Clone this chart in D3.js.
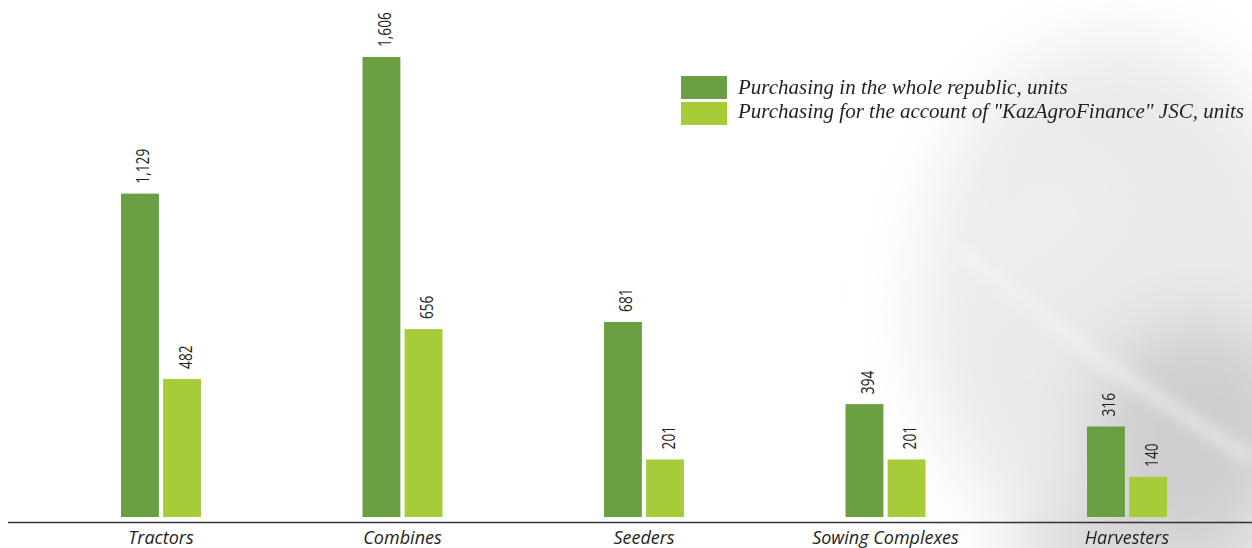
<!DOCTYPE html>
<html><head><meta charset="utf-8">
<script src="https://cdn.jsdelivr.net/npm/d3@7"></script>
<style>html,body{margin:0;padding:0;background:#fff;overflow:hidden}</style>
</head><body>
<svg id="c" width="1252" height="548"></svg>
<script>
const categories = ["Tractors","Combines","Seeders","Sowing Complexes","Harvesters"];
const seriesNames = ["Purchasing in the whole republic, units","Purchasing for the account of \"KazAgroFinance\" JSC, units"];
const republic = [1129,1606,681,394,316];
const kazAgro = [482,656,201,201,140];
const labelsRepublic = ["1,129","1,606","681","394","316"];
const labelsKazAgro = ["482","656","201","201","140"];
const colors = ["#6aa043","#a6cd39"];

const svg = d3.select("#c");
// decorative background
const defs = svg.append("defs");
const f = defs.append("filter").attr("id","blur").attr("x","-50%").attr("y","-50%").attr("width","200%").attr("height","200%");
f.append("feGaussianBlur").attr("stdDeviation",35);
const f2 = defs.append("filter").attr("id","blur2").attr("x","-50%").attr("y","-50%").attr("width","200%").attr("height","200%");
f2.append("feGaussianBlur").attr("stdDeviation",8);
const bg = svg.append("g").attr("filter","url(#blur)");
bg.append("ellipse").attr("cx",1120).attr("cy",300).attr("rx",200).attr("ry",260).attr("fill","#e9e8e8").attr("opacity",0.9);
bg.append("ellipse").attr("cx",1200).attr("cy",430).attr("rx",110).attr("ry",110).attr("fill","#c8c6c6").attr("opacity",0.8);
bg.append("ellipse").attr("cx",1150).attr("cy",560).attr("rx",140).attr("ry",60).attr("fill","#cfcdcd").attr("opacity",0.7);
bg.append("ellipse").attr("cx",1020).attr("cy",230).attr("rx",110).attr("ry",60).attr("fill","#eeeeee").attr("opacity",0.8).attr("transform","rotate(-30,1020,230)");
const bg2 = svg.append("g").attr("filter","url(#blur2)");
bg2.append("line").attr("x1",960).attr("y1",250).attr("x2",1100).attr("y2",360).attr("stroke","#ffffff").attr("stroke-width",6).attr("opacity",0.8);
bg2.append("line").attr("x1",1100).attr("y1",360).attr("x2",1252).attr("y2",460).attr("stroke","#ffffff").attr("stroke-width",8).attr("opacity",0.8);

const x0 = d3.scaleBand().domain(categories).range([121,1167]).paddingInner(1-80/241.5).paddingOuter(0);
const x1 = d3.scaleBand().domain([0,1]).range([0,x0.bandwidth()]).paddingInner(0.1);
const y = d3.scaleLinear().domain([0,1606]).range([517,57]);

const data = categories.map((c,i)=>({c, vals:[republic[i],kazAgro[i]], labs:[labelsRepublic[i],labelsKazAgro[i]]}));
const g = svg.append("g");
const grp = g.selectAll("g.grp").data(data).join("g").attr("transform",d=>`translate(${x0(d.c)},0)`);
grp.selectAll("rect").data(d=>d.vals.map((v,k)=>({v,k}))).join("rect")
  .attr("x",d=>x1(d.k)).attr("width",x1.bandwidth())
  .attr("y",d=>y(d.v)).attr("height",d=>y(0)-y(d.v)).attr("fill",d=>colors[d.k]);
grp.selectAll("text.val").data(d=>d.vals.map((v,k)=>({v,k,l:d.labs[k]}))).join("text")
  .attr("class","val")
  .attr("transform",d=>`translate(${x1(d.k)+x1.bandwidth()/2+9.5},${y(d.v)-10}) rotate(-90) scale(0.74,1)`)
  .attr("font-family","'Open Sans',sans-serif")
  .attr("font-size",18.5).attr("fill","#231f20").text(d=>d.l);

// axis
const axis = d3.axisBottom(x0).tickSize(0).tickPadding(0);
const ax = svg.append("g").attr("transform","translate(0,523)").call(axis);
ax.select(".domain").remove();
svg.append("line").attr("x1",8).attr("x2",1252).attr("y1",522.5).attr("y2",522.5).attr("stroke","#333").attr("stroke-width",1.6);
ax.selectAll("text").attr("y",21).attr("dy",0).attr("font-family","'Open Sans',sans-serif")
  .attr("font-style","italic").attr("font-size",18).attr("fill","#231f20");

// legend
const lg = svg.append("g");
seriesNames.forEach((s,i)=>{
  lg.append("rect").attr("x",681).attr("y",76+i*26).attr("width",46).attr("height",23).attr("fill",colors[i]);
  lg.append("text").attr("x",738).attr("y",94+i*24).attr("font-family","'Liberation Serif','Times New Roman',serif")
    .attr("font-style","italic").attr("font-size",21).attr("fill","#231f20").text(s);
});
</script>
</body></html>
